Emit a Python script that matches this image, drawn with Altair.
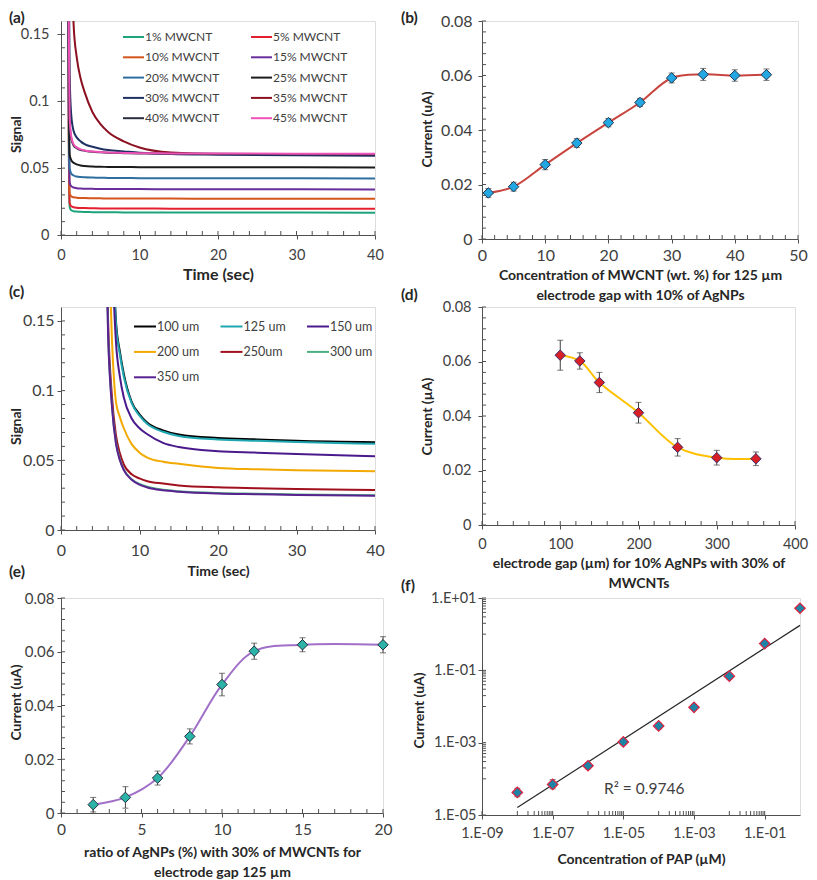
import altair as alt
import pandas as pd

FONT = "Lato"
LBL = "#404040"
TTL = "#262626"
AX = "#505050"

# ---------------- (a) data ----------------
A_SERIES = ["1% MWCNT", "5% MWCNT", "10% MWCNT", "15% MWCNT", "20% MWCNT",
            "25% MWCNT", "30% MWCNT", "35% MWCNT", "40% MWCNT", "45% MWCNT"]
A_COLORS = ["#1fa37c", "#e3202e", "#d4561c", "#6a2d9c", "#2f6f9f",
            "#1c1c1c", "#1f3163", "#8b1020", "#2a2e40", "#f052b8"]
A_TIME = [0.9, 1.0, 1.1, 1.3, 1.6, 2, 2.5, 3, 4, 5, 6, 8, 10, 14, 20, 40]
A_1 = [0.30, 0.060, 0.021, 0.0185, 0.0178, 0.0175, 0.0173, 0.0172, 0.0171, 0.0170, 0.0170, 0.0169, 0.0169, 0.0168, 0.0168, 0.0167]
A_5 = [0.30, 0.070, 0.024, 0.0215, 0.0208, 0.0204, 0.0202, 0.0201, 0.0200, 0.0199, 0.0199, 0.0198, 0.0198, 0.0197, 0.0197, 0.0196]
A_10 = [0.30, 0.080, 0.031, 0.0290, 0.0282, 0.0279, 0.0277, 0.0276, 0.0275, 0.0274, 0.0273, 0.0273, 0.0272, 0.0272, 0.0271, 0.0271]
A_15 = [0.30, 0.090, 0.039, 0.0365, 0.0355, 0.0350, 0.0347, 0.0346, 0.0345, 0.0344, 0.0344, 0.0343, 0.0343, 0.0342, 0.0342, 0.0341]
A_20 = [0.30, 0.100, 0.050, 0.0460, 0.0445, 0.0437, 0.0433, 0.0431, 0.0429, 0.0428, 0.0427, 0.0426, 0.0425, 0.0424, 0.0424, 0.0423]
A_25 = [0.30, 0.110, 0.060, 0.0560, 0.0540, 0.0528, 0.0520, 0.0516, 0.0512, 0.0510, 0.0509, 0.0508, 0.0507, 0.0506, 0.0506, 0.0505]
A_30 = [0.30, 0.200, 0.120, 0.090, 0.078, 0.073, 0.070, 0.068, 0.066, 0.0645, 0.0635, 0.0625, 0.0615, 0.0605, 0.0600, 0.0592]
A_35 = [0.40, 0.360, 0.320, 0.250, 0.158, 0.133, 0.117, 0.107, 0.092, 0.083, 0.077, 0.070, 0.0654, 0.0617, 0.0606, 0.0603]
A_40 = [0.30, 0.150, 0.085, 0.072, 0.067, 0.065, 0.0635, 0.063, 0.0622, 0.0618, 0.0615, 0.0612, 0.0610, 0.0608, 0.0607, 0.0605]
A_45 = [0.30, 0.150, 0.088, 0.074, 0.068, 0.0655, 0.064, 0.0632, 0.0625, 0.0620, 0.0617, 0.0614, 0.0612, 0.0610, 0.0609, 0.0608]
A_VALUES = [A_1, A_5, A_10, A_15, A_20, A_25, A_30, A_35, A_40, A_45]

# ---------------- (b) data ----------------
B_X = [1, 5, 10, 15, 20, 25, 30, 35, 40, 45]
B_Y = [0.0169, 0.0192, 0.0273, 0.0352, 0.0427, 0.0501, 0.0591, 0.0604, 0.0600, 0.0603]
B_ERR = [0.0016, 0.0016, 0.0019, 0.0016, 0.0015, 0.0015, 0.0018, 0.0022, 0.0021, 0.0021]

# ---------------- (c) data ----------------
C_SERIES = ["100 um", "125 um", "150 um", "200 um", "250um", "300 um", "350 um"]
C_COLORS = ["#000000", "#1fa6b0", "#4a1a8c", "#f2a900", "#a0101e", "#4caf80", "#5a2290"]
C_TIME = [5.5, 6, 6.5, 7, 7.5, 8, 9, 10, 11, 13, 15, 20, 25, 30, 40]
C_100 = [0.40, 0.32, 0.22, 0.150, 0.128, 0.112, 0.092, 0.083, 0.077, 0.0715, 0.0685, 0.0660, 0.0650, 0.0640, 0.0630]
C_125 = [0.40, 0.32, 0.22, 0.148, 0.126, 0.110, 0.091, 0.082, 0.076, 0.0705, 0.0675, 0.0650, 0.0640, 0.0632, 0.0618]
C_150 = [0.40, 0.30, 0.20, 0.135, 0.110, 0.095, 0.080, 0.073, 0.0687, 0.0625, 0.0595, 0.0565, 0.0555, 0.0545, 0.0530]
C_200 = [0.35, 0.22, 0.135, 0.092, 0.081, 0.073, 0.0616, 0.0555, 0.0520, 0.0490, 0.0475, 0.0445, 0.0435, 0.0428, 0.0422]
C_250 = [0.30, 0.150, 0.095, 0.068, 0.055, 0.047, 0.040, 0.037, 0.0350, 0.0333, 0.0320, 0.0306, 0.0300, 0.0295, 0.0287]
C_300 = [0.28, 0.142, 0.089, 0.063, 0.051, 0.0435, 0.0365, 0.033, 0.031, 0.0288, 0.0278, 0.0265, 0.0260, 0.0255, 0.0250]
C_350 = [0.28, 0.140, 0.088, 0.062, 0.050, 0.043, 0.036, 0.0325, 0.0305, 0.0285, 0.0275, 0.0262, 0.0257, 0.0252, 0.0245]
C_VALUES = [C_100, C_125, C_150, C_200, C_250, C_300, C_350]

# ---------------- (d) data ----------------
D_X = [100, 125, 150, 200, 250, 300, 350]
D_Y = [0.0623, 0.0602, 0.0523, 0.0412, 0.0285, 0.0247, 0.0243]
D_ERR = [0.0055, 0.0030, 0.0037, 0.0038, 0.0032, 0.0027, 0.0025]

# ---------------- (e) data ----------------
E_X = [2, 4, 6, 8, 10, 12, 15, 20]
E_Y = [0.0031, 0.0058, 0.0130, 0.0285, 0.0478, 0.0602, 0.0626, 0.0626]
E_ERR = [0.0027, 0.0040, 0.0026, 0.0028, 0.0042, 0.0030, 0.0026, 0.0030]

# ---------------- (f) data ----------------
F_X = [1e-8, 1e-7, 1e-6, 1e-5, 1e-4, 1e-3, 1e-2, 1e-1, 1.0]
F_Y = [4.2e-5, 7.0e-5, 2.3e-4, 1.05e-3, 2.9e-3, 9.5e-3, 0.069, 0.55, 5.2]
F_LO = [3.2e-5, 5.3e-5, 1.9e-4, 0.88e-3, 2.4e-3, 8.2e-3, 0.058, 0.47, 4.6]
F_HI = [5.5e-5, 9.5e-5, 2.8e-4, 1.25e-3, 3.5e-3, 1.1e-2, 0.082, 0.64, 5.9]
F_TREND_X = [1e-8, 1.0]
F_TREND_Y = [1.6e-5, 1.75]
F_R2 = "R\u00b2 = 0.9746"

# ---------------- axis tick values ----------------
T40_MAJOR = [0, 10, 20, 30, 40]
T40_MINOR = [2, 4, 6, 8, 12, 14, 16, 18, 22, 24, 26, 28, 32, 34, 36, 38]
SIG_MAJOR = [0, 0.05, 0.1, 0.15]
SIG_MINOR = [0.01, 0.02, 0.03, 0.04, 0.06, 0.07, 0.08, 0.09, 0.11, 0.12, 0.13, 0.14]
CUR_MAJOR = [0, 0.02, 0.04, 0.06, 0.08]
CUR_MINOR = [0.004, 0.008, 0.012, 0.016, 0.024, 0.028, 0.032, 0.036,
             0.044, 0.048, 0.052, 0.056, 0.064, 0.068, 0.072, 0.076]
B_X_MAJOR = [0, 10, 20, 30, 40, 50]
B_X_MINOR = [2, 4, 6, 8, 12, 14, 16, 18, 22, 24, 26, 28, 32, 34, 36, 38, 42, 44, 46, 48]
D_X_MAJOR = [0, 100, 200, 300, 400]
D_X_MINOR = [20, 40, 60, 80, 120, 140, 160, 180, 220, 240, 260, 280, 320, 340, 360, 380]
E_X_MAJOR = [0, 5, 10, 15, 20]
E_X_MINOR = [1, 2, 3, 4, 6, 7, 8, 9, 11, 12, 13, 14, 16, 17, 18, 19]
F_X_MAJOR = [1e-9, 1e-7, 1e-5, 1e-3, 1e-1]
F_X_MINOR = [m * 10.0 ** k for k in (-8, -6, -4, -2) for m in range(1, 10)]
F_Y_MAJOR = [1e-5, 1e-3, 1e-1, 10]
F_Y_MINOR = [m * 10.0 ** k for k in (-4, -2, 0) for m in range(1, 10)]
LOG_LABEL = ("'1.E' + (round(log(datum.value)/LN10) < 0 ? '-' : '+') + "
             "(abs(round(log(datum.value)/LN10)) < 10 ? '0' : '') + abs(round(log(datum.value)/LN10))")


def xaxis(values, title, lsize, lpad, tsize, ty, expr=None):
    kw = dict(values=values, title=title, format="~r", labelFont=FONT, labelFontSize=lsize,
              labelColor=LBL, labelPadding=lpad, labelFlush=False, labelOverlap=False,
              labelBound=False, tickSize=4, tickColor=AX, tickWidth=1, domainColor=AX,
              domainWidth=1, grid=False, titleFont=FONT, titleFontSize=tsize,
              titleFontWeight="bold", titleColor=TTL, titleY=ty, titleBaseline="top",
              titleLineHeight=20)
    if expr:
        kw["labelExpr"] = expr
    return alt.Axis(**kw)


def yaxis(values, title, lsize, lpad, tsize, tx, ty, expr=None):
    kw = dict(values=values, title=title, format="~r", labelFont=FONT, labelFontSize=lsize,
              labelColor=LBL, labelPadding=lpad, labelFlush=False, labelOverlap=False,
              labelBound=False, tickSize=4, tickColor=AX, tickWidth=1, domainColor=AX,
              domainWidth=1, grid=False, titleFont=FONT, titleFontSize=tsize,
              titleFontWeight="bold", titleColor=TTL, titleX=tx, titleY=ty,
              titleAngle=-90, titleBaseline="bottom", titleAlign="center")
    if expr:
        kw["labelExpr"] = expr
    return alt.Axis(**kw)


def tick_layers(xvals, yvals, xs, ys, xa, ya, H):
    tx = alt.Chart(pd.DataFrame({"v": xvals})).mark_rule(color=AX, strokeWidth=1).encode(
        x=alt.X("v:Q", scale=xs, axis=xa), y=alt.value(H), y2=alt.value(H - 4))
    ty = alt.Chart(pd.DataFrame({"v": yvals})).mark_rule(color=AX, strokeWidth=1).encode(
        y=alt.Y("v:Q", scale=ys, axis=ya), x=alt.value(0), x2=alt.value(4))
    return [tx, ty]


def label_layer(txt, dx, dy):
    return alt.Chart(pd.DataFrame({"t": [txt]})).mark_text(
        align="left", baseline="top", font=FONT, fontSize=15.5, fontWeight="bold", color=TTL
    ).encode(text="t:N", x=alt.value(dx), y=alt.value(dy))


def legend_layers(names, colors, ncol, x0, dx, y0, dy, sym, fsize):
    df = pd.DataFrame({"s": names, "c": colors, "i": list(range(len(names)))})
    base = alt.Chart(df).transform_calculate(
        px=f"{x0} + (datum.i % {ncol}) * {dx}",
        py=f"{y0} + floor(datum.i / {ncol}) * {dy}",
    ).transform_calculate(px2=f"datum.px + {sym}", tx=f"datum.px + {sym} + 1")
    rules = base.mark_rule(strokeWidth=2).encode(
        x=alt.X("px:Q", scale=None), x2="px2:Q", y=alt.Y("py:Q", scale=None),
        color=alt.Color("c:N", scale=None))
    texts = base.mark_text(align="left", baseline="middle", font=FONT, fontSize=fsize,
                           color=LBL).encode(
        x=alt.X("tx:Q", scale=None), y=alt.Y("py:Q", scale=None), text="s:N")
    return [rules, texts]


def scatter_panel(xs_, ys_, errs, xs, ys, xa, ya, line_color, fill, stroke, W, H,
                  xmaj, xmin, ymaj, ymin, lab, ldx, ldy):
    df = pd.DataFrame({"x": xs_, "y": ys_,
                       "lo": [a - b for a, b in zip(ys_, errs)],
                       "hi": [a + b for a, b in zip(ys_, errs)]})
    line = alt.Chart(df).mark_line(color=line_color, strokeWidth=2, interpolate="catmull-rom").encode(
        x=alt.X("x:Q", scale=xs, axis=xa), y=alt.Y("y:Q", scale=ys, axis=ya))
    err = alt.Chart(df).mark_errorbar(ticks={"size": 6}, color="#404040", thickness=1).encode(
        x=alt.X("x:Q", scale=xs, axis=xa), y=alt.Y("lo:Q", scale=ys, axis=ya), y2="hi:Q")
    pts = alt.Chart(df).mark_point(shape="diamond", filled=True, size=110, fill=fill,
                                   stroke=stroke, strokeWidth=1, opacity=1).encode(
        x=alt.X("x:Q", scale=xs, axis=xa), y=alt.Y("y:Q", scale=ys, axis=ya))
    layers = [line, err, pts] + tick_layers(xmaj + xmin, ymaj + ymin, xs, ys, xa, ya, H) + [label_layer(lab, ldx, ldy)]
    return alt.layer(*layers).properties(width=W, height=H)


# ---------------- panel (a) ----------------
WA, HA = 314, 214
rows = []
for s, vals in zip(A_SERIES, A_VALUES):
    for t, v in zip(A_TIME, vals):
        rows.append({"t": t, "v": v, "s": s})
df_a = pd.DataFrame(rows)
xs_a = alt.Scale(domain=[0, 40], nice=False, zero=False)
ys_a = alt.Scale(domain=[0, 0.16], nice=False, zero=False)
xa_a = xaxis(T40_MAJOR, "Time (sec)", 14.5, 9, 16, 31)
ya_a = yaxis(SIG_MAJOR, "Signal", 14.5, 8, 14, -38, 113)
lines_a = alt.Chart(df_a).mark_line(clip=True, strokeWidth=2, interpolate="monotone").encode(
    x=alt.X("t:Q", scale=xs_a, axis=xa_a),
    y=alt.Y("v:Q", scale=ys_a, axis=ya_a),
    color=alt.Color("s:N", scale=alt.Scale(domain=A_SERIES, range=A_COLORS), legend=None),
)
panel_a = alt.layer(
    lines_a,
    *tick_layers(T40_MAJOR + T40_MINOR, SIG_MAJOR + SIG_MINOR, xs_a, ys_a, xa_a, ya_a, HA),
    *legend_layers(A_SERIES, A_COLORS, 2, 62, 128, 16, 20.3, 21, 12),
    label_layer("(a)", -52, -10.5),
).properties(width=WA, height=HA)

# ---------------- panel (b) ----------------
WB, HB = 316, 218
xs_b = alt.Scale(domain=[0, 50], nice=False, zero=False)
ys_b = alt.Scale(domain=[0, 0.08], nice=False, zero=False)
panel_b = scatter_panel(
    B_X, B_Y, B_ERR, xs_b, ys_b,
    xaxis(B_X_MAJOR, ["Concentration of MWCNT (wt. %) for 125 \u00b5m", "electrode gap with 10% of AgNPs"], 16, 4, 14, 29),
    yaxis(CUR_MAJOR, "Current (uA)", 16, 6, 14, -48, 108),
    "#c8443f", "#22a7e2", "#1e3550", WB, HB, B_X_MAJOR, B_X_MINOR, CUR_MAJOR, CUR_MINOR,
    "(b)", -81, -10.5)

# ---------------- panel (c) ----------------
WC, HC = 314, 223
rows = []
for s, vals in zip(C_SERIES, C_VALUES):
    for t, v in zip(C_TIME, vals):
        rows.append({"t": t, "v": v, "s": s})
df_c = pd.DataFrame(rows)
xs_c = alt.Scale(domain=[0, 40], nice=False, zero=False)
ys_c = alt.Scale(domain=[0, 0.16], nice=False, zero=False)
xa_c = xaxis(T40_MAJOR, "Time (sec)", 16, 8, 14, 34)
ya_c = yaxis(SIG_MAJOR, "Signal", 16, 3, 14, -38, 119)
lines_c = alt.Chart(df_c).mark_line(clip=True, strokeWidth=2, interpolate="monotone").encode(
    x=alt.X("t:Q", scale=xs_c, axis=xa_c),
    y=alt.Y("v:Q", scale=ys_c, axis=ya_c),
    color=alt.Color("s:N", scale=alt.Scale(domain=C_SERIES, range=C_COLORS), legend=None),
)
panel_c = alt.layer(
    lines_c,
    *tick_layers(T40_MAJOR + T40_MINOR, SIG_MAJOR + SIG_MINOR, xs_c, ys_c, xa_c, ya_c, HC),
    *legend_layers(C_SERIES, C_COLORS, 3, 73, 86.5, 19.5, 25.4, 22, 12.5),
    label_layer("(c)", -52, -22),
).properties(width=WC, height=HC)

# ---------------- panel (d) ----------------
WD, HD = 313, 218
xs_d = alt.Scale(domain=[0, 400], nice=False, zero=False)
ys_d = alt.Scale(domain=[0, 0.08], nice=False, zero=False)
panel_d = scatter_panel(
    D_X, D_Y, D_ERR, xs_d, ys_d,
    xaxis(D_X_MAJOR, ["electrode gap (\u00b5m) for 10% AgNPs with 30% of", "MWCNTs"], 14.5, 8, 14, 31),
    yaxis(CUR_MAJOR, "Current (\u00b5A)", 14.5, 7, 14, -48, 109),
    "#ffc000", "#d81f26", "#3a2a6a", WD, HD, D_X_MAJOR, D_X_MINOR, CUR_MAJOR, CUR_MINOR,
    "(d)", -81, -19.5)

# ---------------- panel (e) ----------------
WE, HE = 322, 215
xs_e = alt.Scale(domain=[0, 20], nice=False, zero=False)
ys_e = alt.Scale(domain=[0, 0.08], nice=False, zero=False)
panel_e = scatter_panel(
    E_X, E_Y, E_ERR, xs_e, ys_e,
    xaxis(E_X_MAJOR, ["ratio of AgNPs (%) with 30% of MWCNTs for", "electrode gap 125 \u00b5m"], 15.5, 5.5, 14, 32),
    yaxis(CUR_MAJOR, "Current (uA)", 15, 3, 14, -38, 104),
    "#a070c8", "#2bb3a8", "#253040", WE, HE, E_X_MAJOR, E_X_MINOR, CUR_MAJOR, CUR_MINOR,
    "(e)", -52, -33)

# ---------------- panel (f) ----------------
WF, HF = 318, 217
xs_f = alt.Scale(type="log", domain=[1e-9, 1], nice=False)
ys_f = alt.Scale(type="log", domain=[1e-5, 10], nice=False)
xa_f = xaxis(F_X_MAJOR, "Concentration of PAP (\u00b5M)", 14.5, 7, 14, 37.5, LOG_LABEL)
ya_f = yaxis(F_Y_MAJOR, "Current (uA)", 14.5, 2, 14, -56, 112, LOG_LABEL)
df_f = pd.DataFrame({"x": F_X, "y": F_Y, "lo": F_LO, "hi": F_HI})
df_ft = pd.DataFrame({"x": F_TREND_X, "y": F_TREND_Y})
trend_f = alt.Chart(df_ft).mark_line(color="#262626", strokeWidth=1.2).encode(
    x=alt.X("x:Q", scale=xs_f, axis=xa_f), y=alt.Y("y:Q", scale=ys_f, axis=ya_f))
err_f = alt.Chart(df_f).mark_errorbar(ticks={"size": 6}, color="#404040", thickness=1).encode(
    x=alt.X("x:Q", scale=xs_f, axis=xa_f), y=alt.Y("lo:Q", scale=ys_f, axis=ya_f), y2="hi:Q")
pts_f = alt.Chart(df_f).mark_point(shape="diamond", filled=True, size=110, fill="#1d84a6",
                                   stroke="#e02040", strokeWidth=1.2, opacity=1).encode(
    x=alt.X("x:Q", scale=xs_f, axis=xa_f), y=alt.Y("y:Q", scale=ys_f, axis=ya_f))
r2_f = alt.Chart(pd.DataFrame({"t": [F_R2]})).mark_text(
    align="left", baseline="middle", font=FONT, fontSize=15.5, color=LBL
).encode(text="t:N", x=alt.value(122), y=alt.value(191))
panel_f = alt.layer(
    trend_f, err_f, pts_f,
    *tick_layers(F_X_MAJOR + F_X_MINOR, F_Y_MAJOR + F_Y_MINOR, xs_f, ys_f, xa_f, ya_f, HF),
    r2_f, label_layer("(f)", -81, -19),
).properties(width=WF, height=HF)

chart = alt.concat(
    panel_a, panel_b, panel_c, panel_d, panel_e, panel_f,
    columns=2, spacing={"row": 68, "column": 99}, bounds="flush",
    padding={"left": 0, "top": 2, "right": 0, "bottom": 0},
).resolve_scale(
    x="independent", y="independent", color="independent"
).configure_view(
    stroke="#a6a6a6", strokeWidth=1
).configure(background="white")

chart.save("out.html", embed_options={"renderer": "svg", "actions": False})
